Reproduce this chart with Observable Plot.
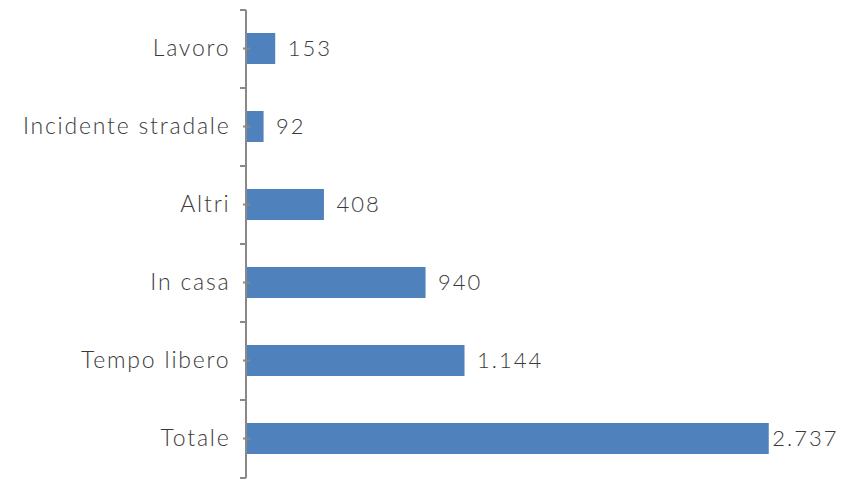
<!DOCTYPE html>
<html><head><meta charset="utf-8">
<script src="https://cdn.jsdelivr.net/npm/d3@7"></script>
<script src="https://cdn.jsdelivr.net/npm/@observablehq/plot@0.6"></script>
<style>
html,body{margin:0;padding:0;background:#fff;}
#chart{width:843px;height:480px;}
#chart text{font-weight:300;letter-spacing:2px;}
#chart g[aria-label="y-axis tick label"] text{letter-spacing:1.8px;}
</style>
</head><body><div id="chart"></div>
<script>
const categories = ["Lavoro", "Incidente stradale", "Altri", "In casa", "Tempo libero", "Totale"];
const values = [153, 92, 408, 940, 1144, 2737];
const valueLabels = ["153", "92", "408", "940", "1.144", "2.737"];

const data = categories.map((c, i) => ({cat: c, value: values[i], label: valueLabels[i]}));

const FONT = "Lato, sans-serif";
const TEXT = "#3a3a3a";
const AXIS = "#898989";

function axisMark(index, scales, values, dims) {
  const y = scales.y;
  const x0 = dims.marginLeft;
  const step = (dims.height - dims.marginTop - dims.marginBottom) / categories.length;
  const g = d3.create("svg:g").attr("stroke", AXIS).attr("stroke-width", 2);
  const top = dims.marginTop, bottom = dims.height - dims.marginBottom;
  g.append("line").attr("x1", x0).attr("x2", x0).attr("y1", top).attr("y2", bottom);
  for (let i = 0; i <= categories.length; i++) {
    const yy = top + i * step;
    g.append("line").attr("x1", x0 - 6).attr("x2", x0).attr("y1", yy).attr("y2", yy);
  }
  for (const c of categories) {
    const yy = y(c) + y.bandwidth() / 2;
    g.append("line").attr("x1", x0 - 3).attr("x2", x0 + 4).attr("y1", yy).attr("y2", yy);
  }
  return g.node();
}

const chart = Plot.plot({
  width: 843,
  height: 480,
  marginLeft: 246,
  marginRight: 24,
  marginTop: 10,
  marginBottom: 2,
  style: {fontFamily: FONT, background: "#fff"},
  x: {domain: [0, 3000], axis: null},
  y: {domain: categories, paddingInner: 0.6, paddingOuter: 0.3, label: null},
  marks: [
    Plot.barX(data, {x: "value", y: "cat", fill: "#4F81BD"}),
    Plot.axisY({tickSize: 0, tickPadding: 16, fontSize: 23, color: TEXT, label: null}),
    Plot.text(data.filter(d => d.cat !== "Totale"), {x: "value", y: "cat", text: "label", textAnchor: "start", dx: 12, fontSize: 22, fill: TEXT}),
    Plot.text(data.filter(d => d.cat === "Totale"), {x: "value", y: "cat", text: "label", textAnchor: "start", dx: 3, fontSize: 22, fill: TEXT}),
    axisMark
  ]
});
document.getElementById("chart").appendChild(chart);
</script>
</body></html>
